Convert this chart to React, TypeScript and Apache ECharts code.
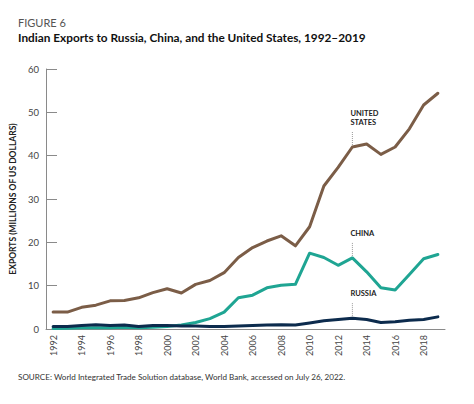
import React, { useEffect, useRef } from "react";
import * as echarts from "echarts";

const years = [
  "1992","1993","1994","1995","1996","1997","1998","1999","2000","2001",
  "2002","2003","2004","2005","2006","2007","2008","2009","2010","2011",
  "2012","2013","2014","2015","2016","2017","2018","2019",
];
const unitedStates = [
  3.9, 3.9, 5.0, 5.5, 6.5, 6.6, 7.2, 8.4, 9.3, 8.3,
  10.3, 11.2, 13.0, 16.5, 18.8, 20.3, 21.5, 19.2, 23.6, 33.0,
  37.3, 42.0, 42.7, 40.3, 42.0, 46.2, 51.7, 54.4,
];
const china = [
  0.1, 0.2, 0.3, 0.3, 0.3, 0.4, 0.3, 0.4, 0.6, 0.9,
  1.5, 2.4, 3.9, 7.2, 7.8, 9.5, 10.1, 10.3, 17.5, 16.5,
  14.7, 16.4, 13.2, 9.5, 9.0, 12.6, 16.2, 17.2,
];
const russia = [
  0.6, 0.6, 0.8, 1.0, 0.8, 0.9, 0.6, 0.8, 0.8, 0.7,
  0.7, 0.6, 0.6, 0.7, 0.8, 0.9, 1.0, 0.9, 1.4, 1.9,
  2.2, 2.5, 2.2, 1.5, 1.7, 2.0, 2.2, 2.8,
];
const yTicks = [0, 10, 20, 30, 40, 50, 60];
const annotationYear = "2013";

const FONT = "Lato, 'Open Sans', sans-serif";

export default function App() {
  const ref = useRef<HTMLDivElement>(null);
  useEffect(() => {
    if (!ref.current) return;
    const chart = echarts.init(ref.current, undefined, { renderer: "svg" });
    const lineSeries = (name: string, data: number[], color: string, z: number) => ({
      name,
      type: "line",
      data,
      symbol: "none",
      z,
      lineStyle: { color, width: 3, join: "round", cap: "round" },
    });
    chart.setOption({
      animation: false,
      textStyle: { fontFamily: FONT },
      grid: { left: 46, right: 29, top: 69, bottom: 75 },
      xAxis: {
        type: "category",
        data: years,
        boundaryGap: true,
        axisLine: { lineStyle: { color: "#8a8a8a", width: 1 } },
        axisTick: { inside: true, length: 6, interval: 0, lineStyle: { color: "#8a8a8a" } },
        axisLabel: {
          interval: 1,
          rotate: 90,
          margin: 6,
          fontSize: 9,
          color: "#444",
          fontFamily: FONT,
        },
      },
      yAxis: {
        type: "value",
        min: yTicks[0],
        max: yTicks[yTicks.length - 1],
        interval: 10,
        name: "EXPORTS (MILLIONS OF US DOLLARS)",
        nameLocation: "middle",
        nameGap: 20,
        nameRotate: 90,
        nameTextStyle: { fontSize: 8.5, fontWeight: "bold", color: "#222", fontFamily: FONT },
        axisLine: { show: true, lineStyle: { color: "#8a8a8a", width: 1 } },
        axisTick: { show: true, inside: true, length: 11, lineStyle: { color: "#8a8a8a" } },
        splitLine: { show: false },
        axisLabel: { fontSize: 9.5, color: "#444", margin: 7, fontFamily: FONT },
      },
      series: [
        lineSeries("United States", unitedStates, "#7b5d47", 3),
        lineSeries("China", china, "#1fa593", 4),
        lineSeries("Russia", russia, "#0c2b4d", 5),
      ],
    });

    const annots = [
      { label: "UNITED\nSTATES", value: unitedStates[years.indexOf(annotationYear)] },
      { label: "CHINA", value: china[years.indexOf(annotationYear)] },
      { label: "RUSSIA", value: russia[years.indexOf(annotationYear)] },
    ];
    const graphics: any[] = [
      {
        type: "text",
        left: 18,
        top: 17,
        style: { text: "FIGURE 6", fontSize: 11, fill: "#555", fontFamily: FONT },
      },
      {
        type: "text",
        left: 18,
        top: 31,
        style: {
          text: "Indian Exports to Russia, China, and the United States, 1992\u20132019",
          fontSize: 11.8,
          fontWeight: "bold",
          fill: "#111",
          fontFamily: FONT,
        },
      },
      {
        type: "text",
        left: 18,
        top: 373,
        style: {
          text: "SOURCE: World Integrated Trade Solution database, World Bank, accessed on July 26, 2022.",
          fontSize: 8.1,
          fill: "#333",
          fontFamily: FONT,
        },
      },
    ];
    annots.forEach((a) => {
      const p = chart.convertToPixel({ gridIndex: 0 }, [annotationYear, a.value]) as number[];
      const top = p[1] - 16;
      graphics.push({
        type: "line",
        shape: { x1: p[0], y1: p[1] - 2, x2: p[0], y2: top },
        style: { stroke: "#999", lineWidth: 1, lineDash: [1, 1] },
      });
      graphics.push({
        type: "text",
        x: p[0] - 2,
        y: top - 4,
        style: {
          text: a.label,
          fontSize: 7.5,
          fontWeight: "bold",
          fill: "#222",
          lineHeight: 9,
          textVerticalAlign: "bottom",
          verticalAlign: "bottom",
          fontFamily: FONT,
        },
      });
    });
    chart.setOption({ graphic: graphics });
    return () => chart.dispose();
  }, []);
  return <div ref={ref} style={{ width: 474, height: 404, position: "absolute", left: 0, top: 0 }} />;
}
